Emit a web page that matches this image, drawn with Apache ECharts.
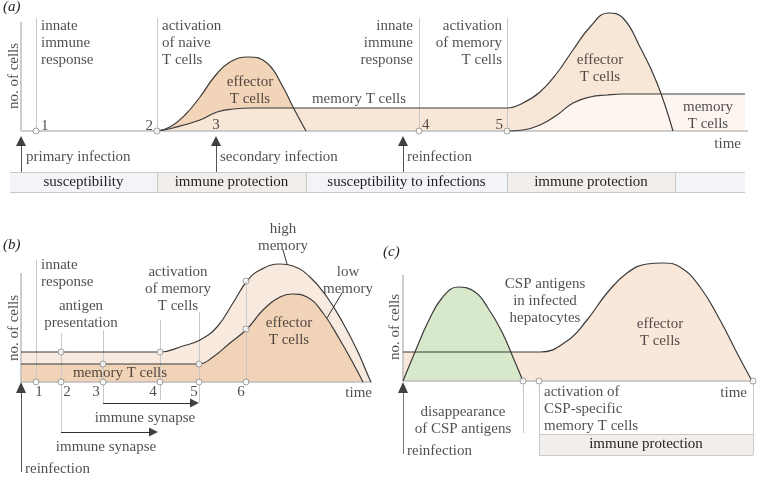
<!DOCTYPE html>
<html><head><meta charset="utf-8">
<script src="https://cdn.jsdelivr.net/npm/echarts@6/dist/echarts.min.js"></script>
<style>html,body{margin:0;padding:0;background:#fff}#c{width:760px;height:477px}</style>
</head><body><div id="c"></div>
<script>
// ================= DATA (time units along x, cell numbers along y; 0 = baseline) =================
// ---- panel (a)
const aMemoryEffector2 = [[136,0],[152,3],[179,11],[196,19],[212,22],[232,23],[300,23],[420,23],[470,23],[486,23],[502,28],[519,39],[536,58],[552,81],[569,104],[587,118],[602,113],[619,84],[636,48],[652,0]];
const aEffector1 = [[136,0],[149,4],[164,16],[179,34],[194,55],[209,69],[227,74],[246,68],[262,44],[272,24],[285,0]];
const aMemory2 = [[486,0],[502,1],[519,6],[536,16],[552,28],[569,34],[586,36],[602,37],[660,37],[724,37]];
const aMilestones = [15,136,398,486];
const aInfections = [0,195,382];
const aBandEdges = [-11,136,285,486,654,724];
const aBandLabels = ['susceptibility','immune protection','susceptibility to infections','immune protection',''];
// ---- panel (b)
const bHighMemory = [[0,30],[120,30],[139,30],[162,36],[179,42],[196,55],[212,79],[226,101],[239,112],[259,118],[272,116],[289,105],[306,85],[322,59],[336,32],[349,2],[350,0]];
const bLowMemory = [[0,18],[150,18],[178,18],[192,25],[209,39],[226,53],[242,72],[259,85],[271,88],[286,85],[302,69],[319,42],[332,19],[341,2],[342,0]];
const bSteps = [15,40,82,139,178,225];
const bStepLabels = ['1','2','3','4','5','6'];
// ---- panel (c)
const cAntigen = [[0,0],[12,29],[25,59],[39,83],[55,94],[72,89],[85,73],[99,49],[112,19],[120,0]];
const cEffector = [[0,29],[80,29],[137,29],[164,40],[184,61],[204,88],[224,108],[244,117],[260,118],[277,114],[297,94],[317,61],[334,28],[349,0]];
const cMarks = [120,136,350];

// ================= STYLE =================
const FONT = '"Liberation Serif","DejaVu Serif",serif';
const TXT = '#231f20';
const CURVE = '#3b3b3b';
const GUIDE = '#c9c9c9';
const AXIS = '#bcbcbc';

function area(g, data, color, z){
  return {type:'line', xAxisIndex:g, yAxisIndex:g, data, smooth:0.45, showSymbol:false, symbol:'none',
    lineStyle:{width:0}, areaStyle:{color, opacity:1}, z, silent:true, animation:false};
}
function curve(g, data, z){
  return {type:'line', xAxisIndex:g, yAxisIndex:g, data, smooth:0.45, showSymbol:false, symbol:'none',
    lineStyle:{color:CURVE, width:1.2}, z: z||6, silent:true, animation:false};
}
function segs(g, list, color, width, z){
  return {type:'lines', coordinateSystem:'cartesian2d', xAxisIndex:g, yAxisIndex:g, z: z||5, silent:true, animation:false,
    lineStyle:{color, width, opacity:1}, data:list.map(c=>({coords:c}))};
}
function dots(g, pts){
  return {type:'scatter', xAxisIndex:g, yAxisIndex:g, data:pts, symbol:'circle', symbolSize:6, z:7, silent:true, animation:false,
    itemStyle:{color:'#fff', borderColor:'#8a8a8a', borderWidth:1}};
}
function heads(g, list){
  return {type:'scatter', xAxisIndex:g, yAxisIndex:g, z:7, silent:true, animation:false, symbol:'triangle',
    itemStyle:{color:'#111'},
    data:list.map(h=>({value:[h[0],h[1]], symbolRotate:h[2], symbolSize:h[3]}))};
}
function notes(g, list){
  return {type:'scatter', xAxisIndex:g, yAxisIndex:g, z:8, silent:true, animation:false, symbolSize:0.1,
    itemStyle:{color:'rgba(0,0,0,0)'},
    data:list.map(n=>({value:[n[0],n[1]], label:{show:true, position:'inside', formatter:n[2], align:n[3]||'center',
      verticalAlign:'middle', rotate:n[4]||0, fontFamily:FONT, fontSize:15, lineHeight:17, color:TXT}}))};
}
function bands(g, boxes, labels, fills){
  return {type:'custom', xAxisIndex:g, yAxisIndex:g, z:1, silent:true, animation:false,
    encode:{x:[0,1], y:[2,3]}, data:boxes,
    renderItem(params, api){
      const i = params.dataIndex;
      const p0 = api.coord([api.value(0), api.value(3)]);
      const p1 = api.coord([api.value(1), api.value(2)]);
      return {type:'rect', shape:{x:p0[0], y:p0[1], width:p1[0]-p0[0], height:p1[1]-p0[1]},
        style:{fill:fills[i]},
        textContent:{style:{text:labels[i], font:'15px '+FONT, fill:TXT}},
        textConfig:{position:'inside'}};
    }};
}

const SUSC = '#f3f4f7', PROT = '#f2eeeb';
const series = [];
// ----- panel (a) : grid 0
const aBoxes = aBandLabels.map((l,i)=>[aBandEdges[i], aBandEdges[i+1], -61, -41]);
series.push(bands(0, aBoxes, aBandLabels, [SUSC, PROT, SUSC, PROT, SUSC]));
series.push(area(0, aEffector1, '#f2d4b8', 2));
series.push(area(0, aMemoryEffector2, '#f8e6d7', 3));
series.push(area(0, aMemory2, '#fcf5f0', 4));
series.push(segs(0, aMilestones.map(t=>[[t,0],[t,113]]), GUIDE, 1));
series.push(segs(0, aBandEdges.slice(1,-1).map(t=>[[t,-41],[t,-61]]).concat([[[-11,-41],[724,-41]],[[-11,-61],[724,-61]]]), GUIDE, 1));
series.push(segs(0, [[[0,0],[0,109]],[[0,0],[727,0]]], AXIS, 1.5));
series.push(segs(0, aInfections.map(t=>[[t,-14],[t,-41]]), '#555', 1));
series.push(curve(0, aEffector1));
series.push(curve(0, aMemoryEffector2));
series.push(curve(0, aMemory2));
series.push(dots(0, aMilestones.map(t=>[t,0])));
series.push(heads(0, aInfections.map(t=>[t,-10,0,[10,10]])));
series.push(notes(0, [
  [20,88,'innate\nimmune\nresponse','left'],
  [141,88,'activation\nof naive\nT cells','left'],
  [392,88,'innate\nimmune\nresponse','right'],
  [481,88,'activation\nof memory\nT cells','right'],
  [229,40.5,'effector\nT cells'],
  [338,32,'memory T cells'],
  [579,62.5,'effector\nT cells'],
  [687,15.5,'memory\nT cells'],
  [720,-13,'time','right'],
  [5,-26,'primary infection','left'],
  [199,-26,'secondary infection','left'],
  [386,-26,'reinfection','left'],
  [20,5,'1','left'],[132,5,'2','right'],[195,5.5,'3'],[401,6,'4','left'],[482,6,'5','right'],
  [-7,55,'no. of cells','center',90]
]));
// ----- panel (b) : grid 1
series.push(area(1, bHighMemory, '#f9eadf', 2));
series.push(area(1, bLowMemory, '#f1d3b7', 3));
series.push(segs(1, [[[15,0],[15,122]],[[40,49],[40,-50]],[[82,52],[82,-21]],[[139,62],[139,-18]],[[178,70],[178,-21]],[[225,101],[225,0]]], GUIDE, 1));
series.push(segs(1, [[[0,0],[0,109]],[[0,0],[351,0]]], AXIS, 1.5));
series.push(segs(1, [[[0,-11],[0,-90]]], '#555', 1));
series.push(segs(1, [[[82,-21],[170,-21]],[[40,-50],[129,-50]],[[262,132],[266,118]],[[321,89],[306,64]]], '#333', 1));
series.push(curve(1, bHighMemory));
series.push(curve(1, bLowMemory));
series.push(dots(1, [[15,0],[40,0],[40,30],[82,0],[82,18],[139,0],[139,30],[178,0],[178,18],[225,0],[225,101],[225,53]]));
series.push(heads(1, [[0,-5.5,0,[10,11]],[173.5,-21,-90,[9,9]],[132.5,-50,-90,[9,9]]]));
series.push(notes(1, [
  [20,108.5,'innate\nresponse','left'],
  [60,67.5,'antigen\npresentation'],
  [157,93,'activation\nof memory\nT cells'],
  [262,144,'high\nmemory'],
  [327,101.5,'low\nmemory'],
  [268,50,'effector\nT cells'],
  [99,9,'memory T cells'],
  [351,-11,'time','right'],
  [124,-36,'immune synapse'],
  [85,-65,'immune synapse'],
  [4,-87,'reinfection','left'],
  [-7,54,'no. of cells','center',90]
].concat(bSteps.map((t,i)=>[[18,46,75,132,173,220][i],-10,bStepLabels[i]]))));
// ----- panel (c) : grid 2
series.push(bands(2, [[136,350,-74,-53]], ['immune protection'], [PROT]));
series.push(area(2, cEffector, '#f9e7d9', 2));
series.push(area(2, cAntigen, '#d8e8cb', 3));
series.push(segs(2, [[[120,0],[120,-52]],[[136,0],[136,-74]],[[350,0],[350,-74]],[[136,-53],[350,-53]],[[136,-74],[350,-74]]], GUIDE, 1));
series.push(segs(2, [[[0,0],[0,106]],[[0,0],[350,0]]], AXIS, 1.5));
series.push(segs(2, [[[0,-12],[0,-73]]], '#777', 1));
series.push(curve(2, cEffector));
series.push(curve(2, cAntigen));
series.push(dots(2, cMarks.map(t=>[t,0])));
series.push(heads(2, [[0,-6.5,0,[10,11]]]));
series.push(notes(2, [
  [142,80,'CSP antigens\nin infected\nhepatocytes'],
  [257,48,'effector\nT cells'],
  [60,-39.5,'disappearance\nof CSP antigens'],
  [141,-28,'activation of\nCSP-specific\nmemory T cells','left'],
  [344,-12,'time','right'],
  [4,-70,'reinfection','left'],
  [-8,54,'no. of cells','center',90]
]));

const hidden = {type:'value', show:false, splitLine:{show:false}};
const chart = echarts.init(document.getElementById('c'), null, {renderer:'canvas'});
chart.setOption({
  backgroundColor:'#fff',
  animation:false,
  title:[
    {text:'(a)', left:3, top:0, padding:0, textStyle:{fontFamily:FONT, fontStyle:'italic', fontWeight:'normal', fontSize:15, color:TXT}},
    {text:'(b)', left:3, top:238, padding:0, textStyle:{fontFamily:FONT, fontStyle:'italic', fontWeight:'normal', fontSize:15, color:TXT}},
    {text:'(c)', left:383, top:245, padding:0, textStyle:{fontFamily:FONT, fontStyle:'italic', fontWeight:'normal', fontSize:15, color:TXT}}
  ],
  grid:[
    {left:0, top:0, width:760, height:200},
    {left:0, top:200, width:380, height:277},
    {left:380, top:200, width:380, height:277}
  ],
  xAxis:[
    Object.assign({gridIndex:0, min:-21, max:739}, hidden),
    Object.assign({gridIndex:1, min:-21, max:359}, hidden),
    Object.assign({gridIndex:2, min:-23, max:357}, hidden)
  ],
  yAxis:[
    Object.assign({gridIndex:0, min:-69, max:131}, hidden),
    Object.assign({gridIndex:1, min:-95, max:182}, hidden),
    Object.assign({gridIndex:2, min:-96, max:181}, hidden)
  ],
  series
});
</script></body></html>
